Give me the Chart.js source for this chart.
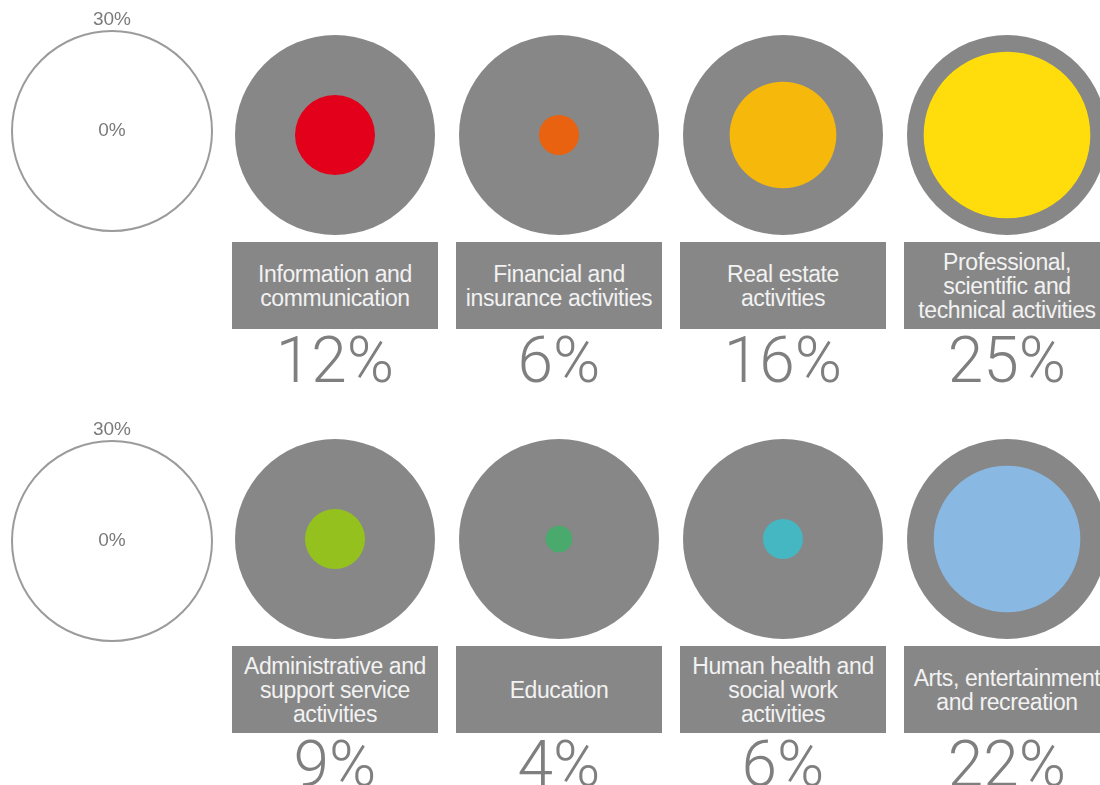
<!DOCTYPE html>
<html>
<head>
<meta charset="utf-8">
<title>Share by sector</title>
<script src="https://cdn.jsdelivr.net/npm/chart.js@4/dist/chart.umd.min.js"></script>
<style>
  html, body { margin: 0; padding: 0; background: #ffffff; }
  body { width: 1100px; height: 785px; overflow: hidden; position: relative; }
  .box {
    position: absolute; width: 206px; height: 87px; background: #878787;
    display: flex; align-items: center; justify-content: center; text-align: center;
    color: #f2f2f2; font-family: "Liberation Sans", Arial, sans-serif; font-size: 23px;
    line-height: 24px; letter-spacing: -0.4px; white-space: nowrap; overflow: hidden;
  }
  .pct {
    position: absolute; width: 206px; text-align: center; color: #7f7f7f;
    font-family: Roboto, "Liberation Sans", sans-serif; font-weight: 300; font-size: 64px;
    line-height: 64px; white-space: nowrap;
  }
</style>
</head>
<body>
<script>
// Sector labels (one entry per line of the caption box)
const categories = [
  ["Information and", "communication"],
  ["Financial and", "insurance activities"],
  ["Real estate", "activities"],
  ["Professional,", "scientific and", "technical activities"],
  ["Administrative and", "support service", "activities"],
  ["Education"],
  ["Human health and", "social work", "activities"],
  ["Arts, entertainment", "and recreation"]
];
// Share of each sector, in percent
const values = [12, 6, 16, 25, 9, 4, 6, 22];
const colors = ["#e2001a", "#e8620f", "#f6b90b", "#ffdc0b", "#95c11f", "#4aa96c", "#45b7c3", "#89b8e2"];
// Radial scale range and the ticks shown on the key circles
const scaleMax = 30;
const keyTicks = [0, 30];

const colX = [335, 559, 783, 1007];
const rowY = [135, 539];
const keyCenters = [[112, 131], [112, 541]];
const RADIUS = 100;

function makeCanvas(cx, cy, half) {
  const c = document.createElement('canvas');
  c.width = half * 2; c.height = half * 2;
  c.style.position = 'absolute';
  c.style.left = (cx - half) + 'px';
  c.style.top = (cy - half) + 'px';
  c.style.width = half * 2 + 'px';
  c.style.height = half * 2 + 'px';
  document.body.appendChild(c);
  return c;
}

// Writes the tick values of the key circle: the outer value above the ring, zero at the centre
const keyLabels = {
  id: 'keyLabels',
  afterDraw(chart) {
    const s = chart.scales.r;
    const ctx = chart.ctx;
    ctx.save();
    ctx.font = '19px "Liberation Sans", Arial, sans-serif';
    ctx.fillStyle = '#7a7a7a';
    ctx.textAlign = 'center';
    ctx.textBaseline = 'middle';
    s.ticks.forEach(t => {
      const d = s.getDistanceFromCenterForValue(t.value);
      const y = t.value === 0 ? s.yCenter : s.yCenter - d - 11;
      ctx.fillText(t.value + '%', s.xCenter, y);
    });
    ctx.restore();
  }
};

// Key circles (one per row)
keyCenters.forEach(([cx, cy]) => {
  const pad = 20;
  const cv = makeCanvas(cx, cy, RADIUS + pad);
  new Chart(cv, {
    type: 'polarArea',
    data: { labels: [''], datasets: [{ data: [0], backgroundColor: 'rgba(0,0,0,0)', borderWidth: 0 }] },
    options: {
      responsive: false, animation: false,
      layout: { padding: pad },
      plugins: { legend: { display: false }, tooltip: { enabled: false } },
      scales: {
        r: {
          min: 0, max: scaleMax,
          ticks: { display: false, stepSize: keyTicks[1] - keyTicks[0] },
          grid: { display: true, color: '#9b9b9b', lineWidth: 2 },
          angleLines: { display: false },
          pointLabels: { display: false }
        }
      }
    },
    plugins: [keyLabels]
  });
});

// Sector circles: grey disc is the full scale, coloured disc is the sector's value
values.forEach((v, i) => {
  const row = Math.floor(i / 4), col = i % 4;
  const cx = colX[col], cy = rowY[row];
  const pad = 1;
  const cv = makeCanvas(cx, cy, RADIUS + pad);
  new Chart(cv, {
    type: 'polarArea',
    data: { labels: [categories[i].join(' ')], datasets: [{ data: [v], backgroundColor: colors[i], borderWidth: 0 }] },
    options: {
      responsive: false, animation: false,
      layout: { padding: pad },
      plugins: { legend: { display: false }, tooltip: { enabled: false } },
      scales: {
        r: {
          min: 0, max: scaleMax,
          backgroundColor: '#878787',
          ticks: { display: false },
          grid: { display: false },
          angleLines: { display: false },
          pointLabels: { display: false }
        }
      }
    }
  });

  const box = document.createElement('div');
  box.className = 'box';
  box.style.left = (cx - 103) + 'px';
  box.style.top = (row === 0 ? 242 : 646) + 'px';
  box.innerHTML = '<div>' + categories[i].join('<br>') + '</div>';
  document.body.appendChild(box);

  const pct = document.createElement('div');
  pct.className = 'pct';
  pct.style.left = (cx - 103) + 'px';
  pct.style.top = (row === 0 ? 329 : 733) + 'px';
  pct.textContent = v + '%';
  document.body.appendChild(pct);
});
</script>
</body>
</html>
